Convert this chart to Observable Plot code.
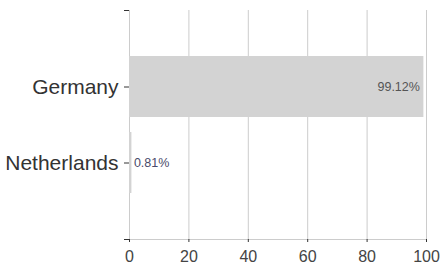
<!DOCTYPE html>
<html>
<head>
<meta charset="utf-8">
<script src="https://cdn.jsdelivr.net/npm/d3@7"></script>
<script src="https://cdn.jsdelivr.net/npm/@observablehq/plot@0.6"></script>
<style>
  html, body { margin: 0; padding: 0; background: #fff; }
  #chart { width: 440px; height: 269px; }
</style>
</head>
<body>
<div id="chart"></div>
<script>
const countries = ["Germany", "Netherlands"];
const shares = [99.12, 0.81];
const xTicks = [0, 20, 40, 60, 80, 100];

const data = countries.map((c, i) => ({country: c, share: shares[i], label: shares[i].toFixed(2) + "%"}));

const endTicks = (index, scales, values, dims) => {
  const g = d3.create("svg:g");
  const x0 = dims.marginLeft, x1 = dims.width - dims.marginRight;
  const y0 = dims.marginTop, y1 = dims.height - dims.marginBottom;
  g.append("line").attr("x1", x0).attr("x2", x1).attr("y1", y1 + 0.5).attr("y2", y1 + 0.5)
    .attr("stroke", "#cccccc");
  [y0, y1].forEach(y => {
    g.append("line").attr("x1", x0 - 5).attr("x2", x0).attr("y1", y + 0.5).attr("y2", y + 0.5)
      .attr("stroke", "#333");
  });
  return g.node();
};

const chart = Plot.plot({
  width: 440,
  height: 269,
  marginLeft: 129,
  marginRight: 14,
  marginTop: 10,
  marginBottom: 30,
  style: {fontFamily: "Liberation Sans, Arial, sans-serif", background: "#fff"},
  x: {domain: [0, 100], ticks: xTicks},
  y: {domain: countries, paddingInner: 0.2, paddingOuter: 0.6},
  marks: [
    Plot.gridX(xTicks, {stroke: "#cccccc", strokeOpacity: 1}),
    Plot.barX(data, {x: "share", y: "country", fill: "#d3d3d3"}),
    Plot.text(data.filter(d => d.share > 50), {x: "share", y: "country", text: "label", textAnchor: "end", dx: -4, fontSize: 12.5, fill: "#555"}),
    Plot.text(data.filter(d => d.share <= 50), {x: "share", y: "country", text: "label", textAnchor: "start", dx: 2, fontSize: 12.5, fill: "#4a4a6a"}),
    endTicks,
    Plot.axisX({ticks: xTicks, tickSize: 3, tickPadding: 8, fontSize: 16, color: "#444", stroke: "#333", label: null}),
    Plot.axisY({tickSize: 5, tickPadding: 6, fontSize: 21, color: "#333", stroke: "#333", label: null})
  ]
});
document.getElementById("chart").appendChild(chart);
</script>
</body>
</html>
